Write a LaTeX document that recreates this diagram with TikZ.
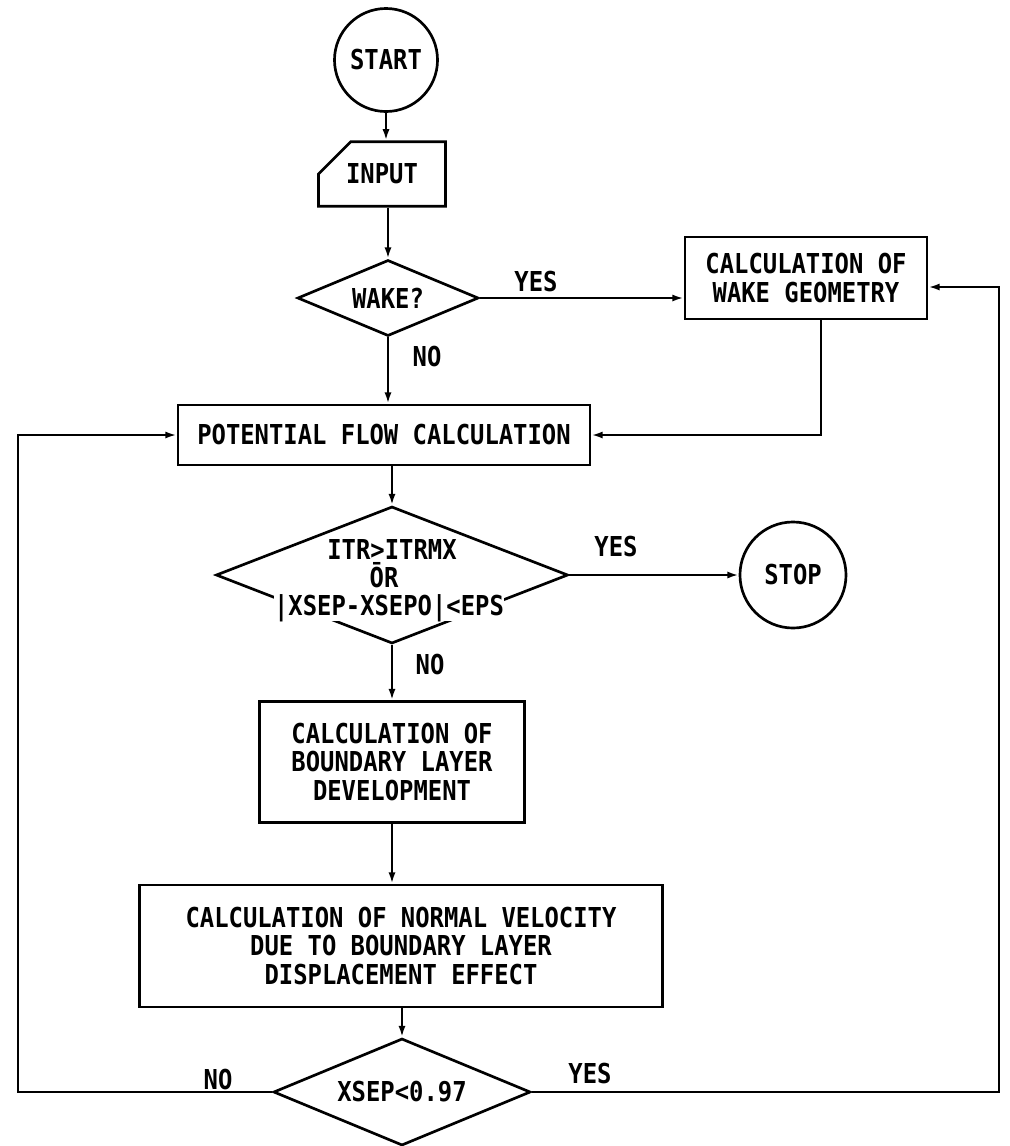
\documentclass[tikz,border=0pt]{standalone}
\usepackage{fontspec}
\newfontfamily\flowfont[FakeStretch=0.87]{DejaVu Sans Mono}
\usetikzlibrary{shapes.geometric,shapes.misc,arrows.meta}

\tikzset{
  chart/.style={x=0.025cm,y=-0.025cm,line width=1.9pt,
    every node/.style={font=\flowfont\bfseries\fontsize{19.5}{20}\selectfont}},
  terminal/.style={circle,draw,minimum size=#1,inner sep=0pt},
  inbox/.style={chamfered rectangle,chamfered rectangle corners=north west,
    chamfered rectangle xsep=0.725cm,chamfered rectangle ysep=0.55cm,
    draw,minimum width=3.175cm,minimum height=1.55cm,inner sep=0pt},
  proc/.style={rectangle,draw,align=center,inner sep=0pt},
  decision/.style={diamond,draw,aspect=2.4,inner sep=0pt},
  txt/.style={inner sep=0pt},
  arr/.style={-{Latex[length=8pt,width=5pt]}}
}

\begin{document}
\begin{tikzpicture}[chart]
      \useasboundingbox (0,0) rectangle (1009,1146);

      % boxes
      \node[terminal=2.575cm] (start) at (386,60) {START};
      \node[inbox] (input) at (382,174) {INPUT};
      \node[decision,minimum width=4.525cm,minimum height=1.9cm] (wake) at (388,298) {WAKE?};
      \node[proc,minimum width=6.05cm,minimum height=2.05cm] (wakegeo) at (806,278)
        {CALCULATION OF\\WAKE GEOMETRY};
      \node[proc,minimum width=10.3cm,minimum height=1.5cm] (potential) at (384,435)
        {POTENTIAL FLOW CALCULATION};
      \node[decision,minimum width=8.8cm,minimum height=3.425cm] (itr) at (392,575) {};
      \node[txt,anchor=base] (itrA) at (392,559) {ITR>ITRMX};
      \node[txt,anchor=base] (itrB) at (384,587) {ŌR};
      \node[txt,anchor=base,fill=white] (itrC) at (389,615) {|XSEP-XSEPO|<EPS};
      \node[terminal=2.65cm] (stop) at (793,575) {STOP};
      \node[proc,minimum width=6.625cm,minimum height=3.025cm] (boundary) at (392,762)
        {CALCULATION OF\\BOUNDARY LAYER\\DEVELOPMENT};
      \node[proc,minimum width=13.075cm,minimum height=3.05cm] (normal) at (401,946)
        {CALCULATION OF NORMAL VELOCITY\\DUE TO BOUNDARY LAYER\\DISPLACEMENT EFFECT};
      \node[decision,minimum width=6.425cm,minimum height=2.675cm] (xsep) at (402,1092) {XSEP<0.97};

      % branch labels
      \node[txt] (yesWake) at (536,282) {YES};
      \node[txt] (noWake)  at (427,357) {NO};
      \node[txt] (yesItr)  at (616,547) {YES};
      \node[txt] (noItr)   at (430,665) {NO};
      \node[txt] (noXsep)  at (218,1080) {NO};
      \node[txt] (yesXsep) at (590,1074) {YES};

      % loop corners
      \coordinate (loopL) at (18,760);
      \coordinate (loopR) at (999,760);
      \coordinate (geoIn) at ([yshift=-0.225cm]wakegeo.east);

      \begin{scope}[every edge/.style={draw,arr}]
        \path (start) edge (start |- input.north);
        \path (input.south -| wake.north) edge (wake.north);
        \path (wake.east) edge (wake.east -| wakegeo.west);
        \path (wake.south) edge (wake.south |- potential.north);
        \path (itr.north |- potential.south) edge (itr.north);
        \path (itr.east) edge (stop.west);
        \path (itr.south) edge (itr.south |- boundary.north);
        \path (boundary.south) edge (boundary.south |- normal.north);
        \path (xsep.north |- normal.south) edge (xsep.north);
      \end{scope}

      \draw[arr] ([xshift=0.375cm]wakegeo.south) |- (potential.east);
      \draw[arr] (xsep.west) -| (loopL) |- (potential.west);
      \draw[arr] (xsep.east) -| (loopR) |- (geoIn);

    \end{tikzpicture}
\end{document}
